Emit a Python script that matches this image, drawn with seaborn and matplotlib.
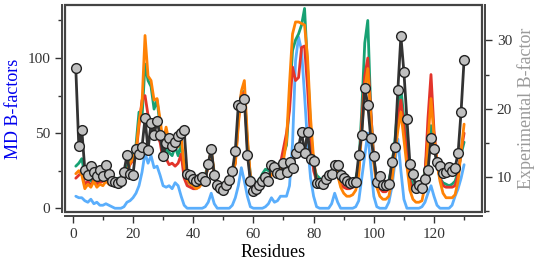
import numpy as np
import pandas as pd
import seaborn as sns
import matplotlib
matplotlib.use("Agg")
import matplotlib.pyplot as plt

residues = list(range(1, 131))

md_green = [28, 30, 33, 22, 20, 18, 21, 17, 19, 20,
            22, 20, 18, 19, 20, 18, 22, 28, 32, 35,
            42, 64, 60, 96, 85, 81, 66, 72, 55, 37,
            39, 37, 35, 41, 35, 43, 24, 18, 16, 15,
            14, 16, 18, 22, 30, 36, 24, 17, 15, 16,
            18, 20, 24, 32, 60, 76, 78, 44, 22, 18,
            17, 19, 23, 26, 25, 27, 30, 26, 29, 36,
            42, 72, 105, 112, 116, 122, 133, 94, 54, 28,
            22, 20, 18, 19, 22, 24, 30, 26, 20, 17,
            16, 17, 18, 20, 28, 65, 110, 125, 65, 32,
            19, 16, 15, 15, 18, 28, 45, 68, 80, 60,
            43, 22, 15, 14, 13, 14, 25, 45, 55, 45,
            30, 20, 17, 16, 15, 16, 18, 24, 36, 44]

md_orange = [23, 25, 22, 13, 16, 14, 18, 14, 16, 15,
             18, 16, 17, 17, 19, 17, 20, 24, 30, 33,
             38, 57, 70, 115, 88, 85, 72, 73, 59, 44,
             54, 44, 39, 44, 41, 48, 28, 19, 16, 15,
             13, 14, 17, 20, 28, 39, 23, 15, 13, 12,
             14, 17, 22, 30, 55, 78, 85, 48, 20, 16,
             14, 16, 18, 20, 21, 22, 25, 24, 26, 32,
             45, 83, 116, 124, 124, 123, 122, 100, 60, 33,
             18, 16, 15, 17, 20, 22, 28, 22, 14, 10,
             8, 8, 9, 12, 22, 52, 80, 93, 62, 30,
             14, 8, 6, 6, 8, 18, 35, 52, 64, 46,
             28, 12, 6, 4, 4, 5, 15, 45, 73, 48,
             30, 18, 10, 7, 7, 7, 9, 18, 38, 56]

md_red = [20, 22, 24, 16, 18, 15, 19, 16, 17, 18,
          19, 17, 18, 18, 19, 17, 21, 25, 29, 32,
          36, 55, 72, 75, 62, 55, 50, 48, 44, 32,
          33, 29, 30, 28, 30, 36, 20, 15, 14, 13,
          13, 15, 17, 21, 28, 36, 22, 15, 13, 13,
          15, 18, 23, 30, 58, 76, 77, 42, 20, 16,
          14, 15, 17, 19, 20, 22, 24, 26, 30, 40,
          50, 65, 94, 85, 87, 107, 108, 80, 45, 25,
          18, 16, 16, 18, 20, 22, 26, 22, 16, 14,
          13, 13, 14, 16, 25, 58, 88, 100, 65, 32,
          18, 13, 11, 11, 13, 22, 40, 60, 72, 55,
          35, 18, 12, 11, 11, 12, 22, 60, 89, 52,
          30, 20, 15, 14, 14, 14, 15, 22, 38, 50]

md_blue = [8, 7, 7, 5, 4, 6, 3, 4, 2, 2,
           3, 2, 1, 0, 0, 0, 1, 4, 5, 7,
           10, 15, 24, 37, 30, 35, 27, 28, 22, 15,
           14, 15, 13, 17, 15, 8, 2, 0, 0, 0,
           0, 0, 0, 1, 4, 10, 3, 0, 0, 0,
           0, 0, 2, 7, 15, 27, 18, 8, 1, 0,
           0, 0, 0, 1, 3, 7, 4, 5, 8, 8,
           8, 15, 43, 98, 114, 105, 75, 43, 20, 8,
           1, 0, 0, 0, 0, 3, 10, 4, 0, 0,
           0, 0, 0, 1, 5, 20, 35, 50, 28, 8,
           1, 0, 0, 0, 4, 14, 30, 46, 25, 6,
           0, 0, 0, 0, 0, 1, 4, 10, 15, 8,
           2, 0, 0, 0, 0, 2, 8, 13, 20, 29]

experimental = [25.9, 14.5, 16.9, 11.1, 10.3, 11.6, 10.8, 10.2, 11.0, 10.2,
                11.8, 10.5, 9.5, 9.3, 9.1, 9.4, 10.8, 13.2, 10.5, 10.4,
                14.1, 13.4, 14.4, 18.6, 14.0, 17.9, 16.2, 18.2, 16.1, 13.1,
                15.0, 15.7, 14.6, 15.2, 16.0, 16.5, 16.9, 10.5, 10.3, 9.8,
                9.4, 9.7, 10.1, 9.5, 12.0, 14.2, 10.3, 8.8, 8.4, 8.2,
                8.8, 9.6, 10.9, 13.9, 20.6, 20.3, 21.4, 13.3, 9.5, 8.0,
                8.3, 8.8, 9.5, 10.0, 9.5, 11.8, 11.5, 10.6, 10.5, 12.1,
                10.8, 12.3, 11.4, 13.6, 14.4, 16.6, 13.6, 16.6, 12.6, 12.4,
                9.2, 9.1, 9.0, 9.8, 10.4, 10.5, 11.8, 11.8, 10.3, 9.9,
                9.5, 9.2, 9.3, 9.3, 13.2, 16.2, 23.1, 20.6, 15.7, 13.1,
                9.3, 10.2, 8.9, 8.9, 9.0, 12.2, 14.4, 22.8, 30.6, 25.4,
                18.5, 12.0, 10.5, 8.5, 8.9, 8.5, 9.7, 11.0, 15.8, 14.1,
                12.2, 11.7, 10.6, 10.7, 11.5, 10.9, 11.4, 13.5, 19.6, 27.2]

md = pd.DataFrame({"res": residues, "blue": md_blue, "green": md_green,
                   "red": md_red, "orange": md_orange})
exp = pd.DataFrame({"res": residues, "exp": experimental})

sns.set_theme(style="ticks")
plt.rcParams["font.family"] = ["Liberation Serif", "DejaVu Serif"]

fig = plt.figure(figsize=(5.6, 2.72), dpi=100)
ax = fig.add_axes([0.116, 0.22, 0.745, 0.76])

# box around the plotting area; the tick spines sit a little outside it
ax.patch.set_edgecolor("#444444")
ax.patch.set_linewidth(1.6)

colors = {"blue": "#5aaefc", "green": "#17a173", "red": "#e3342a", "orange": "#ff8205"}
for name in ["blue", "green", "red", "orange"]:
    sns.lineplot(data=md, x="res", y=name, ax=ax, color=colors[name], lw=2)

ax.set_xlim(-2.6, 136)
ax.set_ylim(-2.6, 135)
ax.set_xticks([0, 20, 40, 60, 80, 100, 120])
ax.set_xticks(range(10, 131, 20), minor=True)
ax.set_yticks([0, 50, 100])
ax.set_yticks([25, 75, 125], minor=True)
ax.set_xlabel("Residues", fontsize=13, color="black", labelpad=2)
ax.set_ylabel("MD B-factors", fontsize=13, color="#0000ee", labelpad=4)

ax2 = ax.twinx()
sns.lineplot(data=exp, x="res", y="exp", ax=ax2, color="#333333", lw=2,
             marker="o", markersize=7, markerfacecolor="#c0c0c0",
             markeredgecolor="#222222", markeredgewidth=1)
ax2.set_ylim(4.9, 35.1)
ax2.set_yticks([10, 20, 30])
ax2.set_yticks([5, 15, 25], minor=True)
ax2.set_ylabel("Experimental B-factor", fontsize=13, color="#9a9a9a", labelpad=4)

for a in (ax, ax2):
    for s in a.spines.values():
        s.set_color("#444444")
        s.set_linewidth(1.4)
    a.tick_params(which="both", direction="out", colors="#333333",
                  labelsize=11, width=1, labelcolor="#333333")
    a.tick_params(which="major", length=5)
    a.tick_params(which="minor", length=3)
ax.spines["bottom"].set_position(("outward", 3))
ax.spines["left"].set_position(("outward", 2))
ax2.spines["right"].set_position(("outward", 2))
ax2.spines["top"].set_visible(False)
ax2.spines["bottom"].set_visible(False)
ax2.spines["left"].set_visible(False)

fig.savefig("out.png", dpi=100)
